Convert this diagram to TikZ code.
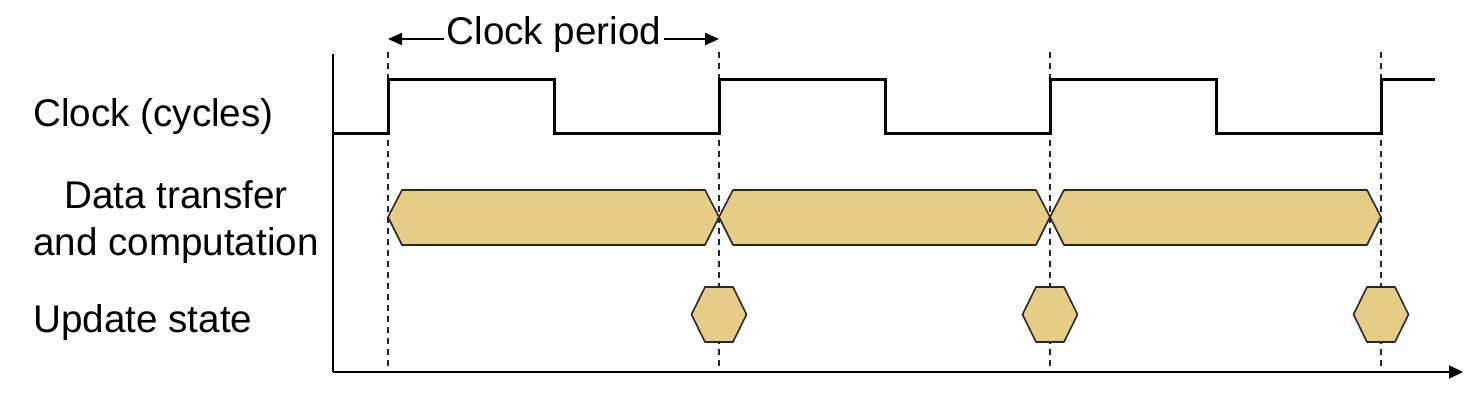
\documentclass[tikz,border=0pt]{standalone}
\usepackage{fontspec}
\setmainfont{Liberation Sans}
\usetikzlibrary{arrows.meta}
\definecolor{hexfill}{RGB}{229,205,134}
\definecolor{hexline}{RGB}{40,40,40}
\tikzset{
  lbl/.style={font=\fontsize{19.3}{23.5}\selectfont, inner sep=0pt},
  clockline/.style={line width=1.5pt, line join=miter},
  axisline/.style={line width=1pt},
  guide/.style={line width=0.9pt, dash pattern=on 3pt off 2.5pt, black!85},
  hexbox/.style={fill=hexfill, draw=hexline, line width=0.8pt, line join=round},
  periodarrow/.style={line width=1.1pt, -{Triangle[length=7pt,width=6pt]}}
}
\begin{document}
\begin{tikzpicture}[x=0.5pt,y=-0.5pt]
\useasboundingbox (0,0) rectangle (1474,401);
% tick positions
\coordinate (t0) at (388,0);
\coordinate (t1) at (719,0);
\coordinate (t2) at (1050,0);
\coordinate (t3) at (1381,0);
% dashed guides
\foreach \x in {388,719,1050,1381}
  \draw[guide] (\x,52) -- (\x,372);
% axes
\coordinate (ytop) at (333,54);
\coordinate (origin) at (333,372);
\coordinate (xend) at (1463,372);
\draw[axisline] (ytop) -- (origin);
\draw[axisline, -{Triangle[length=7pt,width=6.5pt]}] (origin) -- (xend);
% clock
\draw[clockline] (333,134) -- (388,134) -- (388,80) -- (554,80) -- (554,134)
  -- (719,134) -- (719,80) -- (885,80) -- (885,134) -- (1050,134) -- (1050,80)
  -- (1216,80) -- (1216,134) -- (1381,134) -- (1381,80) -- (1435,80);
% clock period
\node[lbl, anchor=base] (cp) at (554,45) {Clock period};
\coordinate (cpl) at (388,39);
\coordinate (cpr) at (719,39);
\draw[periodarrow] (cp.west |- cpl) ++(-2,0) -- (cpl);
\draw[periodarrow] (cp.east |- cpr) ++(2,0) -- (cpr);
% data transfer hexagons
\foreach \a in {388,719,1050}{
  \draw[hexbox] (\a,217) -- (\a+14,190) -- (\a+317,190) -- (\a+331,217)
    -- (\a+317,245) -- (\a+14,245) -- cycle;
}
% update state hexagons
\foreach \c in {719,1050,1381}{
  \draw[hexbox] (\c-27.5,314.5) -- (\c-14,287) -- (\c+14,287) -- (\c+27.5,314.5)
    -- (\c+14,342) -- (\c-14,342) -- cycle;
}
% labels
\node[lbl, anchor=base west] (lclk) at (33,127) {Clock (cycles)};
\node[lbl, anchor=base, align=center] (ldata) at (176,256) {Data transfer\\and computation};
\node[lbl, anchor=base west] (lupd) at (33,332) {Update state};
\end{tikzpicture}
\end{document}
